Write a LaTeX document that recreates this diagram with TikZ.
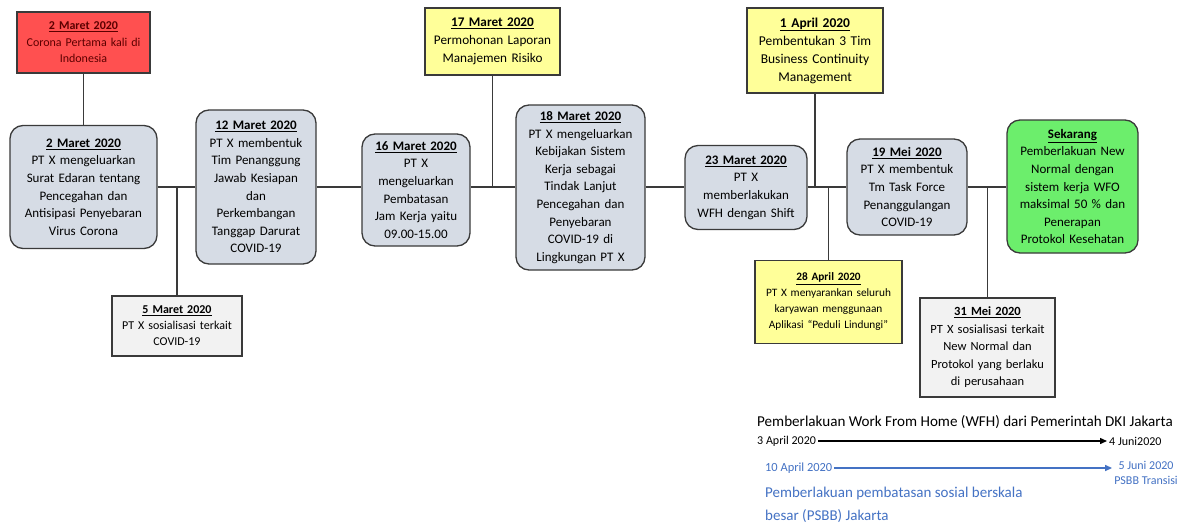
\documentclass[tikz,border=0pt]{standalone}
\usepackage{fontspec}
\setmainfont{Carlito}
\usetikzlibrary{arrows.meta}
\definecolor{edge}{HTML}{3A3A3A}
\definecolor{grayfill}{HTML}{D6DCE5}
\definecolor{lightfill}{HTML}{F2F2F2}
\definecolor{yel}{HTML}{FFFF99}
\definecolor{redfill}{HTML}{FF5050}
\definecolor{redtext}{HTML}{5C0000}
\definecolor{greenfill}{HTML}{6CEE6C}
\definecolor{blueline}{HTML}{4472C4}
\newcommand\fsz[2]{\fontsize{#1}{#2}\selectfont}
\newcommand\dt[1]{\underline{\textbf{#1}}}
\tikzset{
  rbox/.style={draw=edge, line width=1.3pt, rounded corners=13pt, fill=grayfill,
    align=center, inner xsep=2pt, inner ysep=0pt, font=\fsz{13}{17.6}},
  sbox/.style={draw=edge, line width=1.2pt, align=center, inner xsep=2pt, inner ysep=0pt},
  conn/.style={draw=edge, line width=1.2pt},
  plain/.style={inner sep=2pt},
}
\begin{document}
\begin{tikzpicture}[x=1pt,y=-1pt]
\fill[white] (0,0) rectangle (1182,525);
\useasboundingbox (0,0) rectangle (1182,525);
\coordinate (L) at (0,187);

% rounded gray boxes
\node[rbox, text width=143pt, minimum height=123pt] (g1) at (83.5,187)
  {\dt{2 Maret 2020}\\PT X mengeluarkan\\Surat Edaran tentang\\Pencegahan dan\\Antisipasi Penyebaran\\Virus Corona};
\node[rbox, text width=116pt, minimum height=154pt] (g2) at (256,187)
  {\dt{12 Maret 2020}\\PT X membentuk\\Tim Penanggung\\Jawab Kesiapan\\dan\\Perkembangan\\Tanggap Darurat\\COVID-19};
\node[rbox, text width=104pt, minimum height=112pt] (g3) at (416,190)
  {\dt{16 Maret 2020}\\PT X\\mengeluarkan\\Pembatasan\\Jam Kerja yaitu\\09.00-15.00};
\node[rbox, text width=125pt, minimum height=165pt] (g4) at (580.5,187.5)
  {\dt{18 Maret 2020}\\PT X mengeluarkan\\Kebijakan Sistem\\Kerja sebagai\\Tindak Lanjut\\Pencegahan dan\\Penyebaran\\COVID-19 di\\Lingkungan PT X};
\node[rbox, text width=118pt, minimum height=84pt] (g5) at (746,187.5)
  {\dt{23 Maret 2020}\\PT X\\memberlakukan\\WFH dengan Shift};
\node[rbox, text width=116pt, minimum height=96pt] (g6) at (907,187)
  {\dt{19 Mei 2020}\\PT X membentuk\\Tm Task Force\\Penanggulangan\\COVID-19};
\node[rbox, fill=greenfill, text width=127pt, minimum height=133pt] (gr) at (1072.5,186.5)
  {\dt{Sekarang}\\Pemberlakuan New\\Normal dengan\\sistem kerja WFO\\maksimal 50 \% dan\\Penerapan\\Protokol Kesehatan};

% square boxes
\node[sbox, fill=redfill, text=redtext, text width=129pt, minimum height=61pt, font=\fsz{12}{16.5}] (red) at (83.5,42.5)
  {\dt{2 Maret 2020}\\Corona Pertama kali di\\Indonesia};
\node[sbox, fill=yel, text width=131pt, minimum height=67pt, font=\fsz{13.2}{18}] (y1) at (492.5,41.5)
  {\dt{17 Maret 2020}\\Permohonan Laporan\\Manajemen Risiko};
\node[sbox, fill=yel, text width=132pt, minimum height=85pt, font=\fsz{13.5}{18}] (y2) at (815,50.5)
  {\dt{1 April 2020}\\Pembentukan 3 Tim\\Business Continuity\\Management};
\node[sbox, fill=yel, text width=143pt, minimum height=83pt, font=\fsz{11.3}{16}] (y3) at (828.5,302)
  {\dt{28 April 2020}\\PT X menyarankan seluruh\\karyawan menggunaan\\Aplikasi “Peduli Lindungi”};
\node[sbox, fill=lightfill, text width=131pt, minimum height=99pt, font=\fsz{12.5}{17.5}] (w2) at (987.5,347.5)
  {\dt{31 Mei 2020}\\PT X sosialisasi terkait\\New Normal dan\\Protokol yang berlaku\\di perusahaan};
\node[sbox, fill=lightfill, text width=126pt, minimum height=60pt, font=\fsz{12}{16}] (w1) at (177,326)
  {\dt{5 Maret 2020}\\PT X sosialisasi terkait\\COVID-19};

% connectors
\draw[conn] (red.south) -- (g1.north);
\draw[conn] (g1.east |- L) -- (g2.west |- L);
\draw[conn] (g2.east |- L) -- (g3.west |- L);
\draw[conn] (g3.east |- L) -- (g4.west |- L);
\draw[conn] (g4.east |- L) -- (g5.west |- L);
\draw[conn] (g5.east |- L) -- (g6.west |- L);
\draw[conn] (g6.east |- L) -- (gr.west |- L);
\draw[conn] (w1.north) -- (w1.north |- L);
\draw[conn] (y1.south) -- (y1.south |- L);
\draw[conn] (y2.south) -- (y2.south |- L);
\draw[conn] (y3.north) -- (y3.north |- L);
\draw[conn] (w2.north) -- (w2.north |- L);

% bottom legend
\node[plain, anchor=west, font=\fsz{15.1}{18}] (t1) at (755,422)
  {Pemberlakuan Work From Home (WFH) dari Pemerintah DKI Jakarta};
\node[plain, anchor=west, font=\fsz{12}{14}] (a3) at (755,441) {3 April 2020};
\node[plain, anchor=west, font=\fsz{12}{14}] (a4) at (1107,441) {4 Juni2020};
\draw[line width=1.4pt, -{Triangle[length=7pt,width=6pt]}] (a3.east) -- (a4.west);

\node[plain, anchor=west, text=blueline, font=\fsz{12.4}{14}] (b10) at (763,468) {10 April 2020};
\node[plain, text=blueline, align=center, font=\fsz{12}{15.5}] (b5) at (1146,473) {5 Juni 2020\\PSBB Transisi};
\draw[line width=1.4pt, draw=blueline, -{Triangle[length=7pt,width=6pt]}] (b10.east) -- (b10.east -| b5.west);
\node[plain, anchor=west, text=blueline, align=left, font=\fsz{15}{23}] (bt) at (763,504.5)
  {Pemberlakuan pembatasan sosial berskala\\besar (PSBB) Jakarta};
\end{tikzpicture}
\end{document}
